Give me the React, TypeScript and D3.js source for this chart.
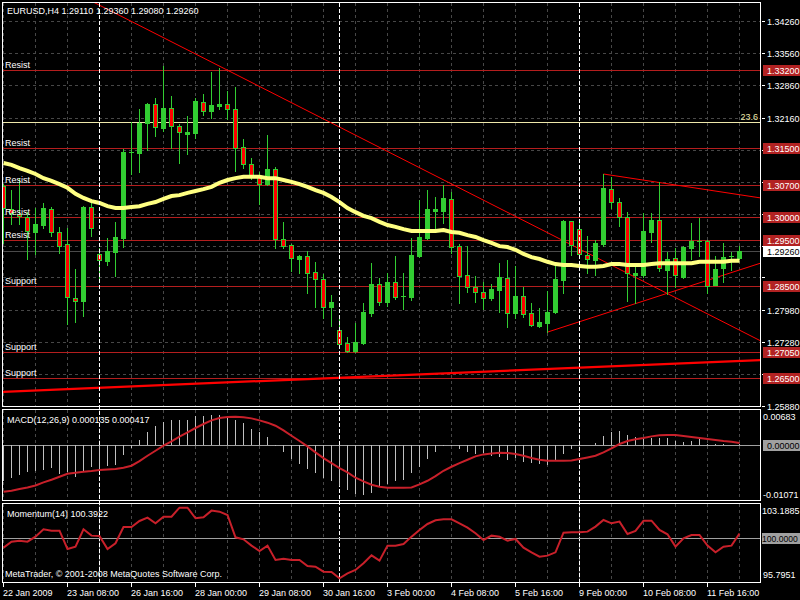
import React, { useEffect } from 'react';
import * as d3 from 'd3';

// ---- candle data (EURUSD H4), one value per bar ----
const opens = [1.3067,1.3017,1.3006,1.2999,1.2967,1.2982,1.3017,1.2967,1.2941,1.2823,
1.2817,1.3021,1.2919,1.2904,1.2923,1.2954,1.3139,1.3139,1.3204,1.3245,
1.3193,1.3237,1.3198,1.3180,1.3182,1.3250,1.3230,1.3241,1.3245,1.3235,
1.3152,1.3115,1.3087,1.3071,1.3104,1.2952,1.2939,1.2908,1.2915,1.2880,
1.2865,1.2804,1.2754,1.2725,1.2708,1.2725,1.2791,1.2854,1.2815,1.2858,
1.2825,1.2825,1.2915,1.2954,1.3013,1.3013,1.3039,1.2936,1.2873,1.2847,
1.2836,1.2823,1.2841,1.2867,1.2791,1.2828,1.2791,1.2762,1.2769,1.2793,
1.2862,1.2991,1.2973,1.2917,1.2906,1.2941,1.3060,1.3032,1.2999,1.2873,
1.2873,1.2967,1.2993,1.2884,1.2910,1.2869,1.2932,1.2945,1.2947,1.2852,
1.2889,1.2912,1.2911];
const highs = [1.3071,1.3058,1.3084,1.3010,1.3019,1.3030,1.3021,1.2978,1.2976,1.2886,
1.3023,1.3032,1.2932,1.2954,1.2989,1.3148,1.3206,1.3235,1.3248,1.3258,
1.3328,1.3263,1.3202,1.3219,1.3258,1.3267,1.3315,1.3324,1.3274,1.3282,
1.3169,1.3128,1.3097,1.3178,1.3108,1.2989,1.2941,1.2917,1.2926,1.2902,
1.2875,1.2830,1.2782,1.2738,1.2769,1.2812,1.2899,1.2867,1.2878,1.2915,
1.2878,1.2954,1.3036,1.3058,1.3043,1.3069,1.3054,1.2941,1.2936,1.2871,
1.2858,1.2854,1.2899,1.2906,1.2893,1.2847,1.2812,1.2802,1.2838,1.2893,
1.2993,1.2991,1.2993,1.2958,1.2949,1.3093,1.3087,1.3041,1.3010,1.2891,
1.3008,1.3008,1.3076,1.2923,1.2932,1.2936,1.2986,1.2997,1.2949,1.2915,
1.2943,1.2923,1.2936];
const lows = [1.2943,1.2984,1.2984,1.2908,1.2919,1.2976,1.2958,1.2921,1.2767,1.2771,
1.2784,1.2958,1.2862,1.2895,1.2871,1.2934,1.3093,1.3097,1.3145,1.3176,
1.3187,1.3150,1.3117,1.3137,1.3171,1.3221,1.3215,1.3235,1.3213,1.3100,
1.3106,1.3082,1.3028,1.3069,1.2932,1.2932,1.2882,1.2878,1.2834,1.2804,
1.2780,1.2762,1.2717,1.2706,1.2706,1.2723,1.2784,1.2808,1.2806,1.2821,
1.2799,1.2819,1.2912,1.2952,1.2976,1.2986,1.2921,1.2812,1.2836,1.2815,
1.2799,1.2819,1.2793,1.2760,1.2780,1.2782,1.2762,1.2760,1.2749,1.2791,
1.2834,1.2917,1.2917,1.2878,1.2873,1.2936,1.3019,1.2980,1.2817,1.2812,
1.2869,1.2945,1.2882,1.2832,1.2847,1.2867,1.2908,1.2915,1.2834,1.2852,
1.2858,1.2884,1.2908];
const closes = [1.3019,1.3008,1.3002,1.2969,1.2984,1.3019,1.2967,1.2936,1.2825,1.2817,
1.3021,1.2976,1.2906,1.2926,1.2956,1.3141,1.3141,1.3204,1.3245,1.3195,
1.3237,1.3198,1.3184,1.3184,1.3252,1.3230,1.3243,1.3245,1.3235,1.3150,
1.3115,1.3087,1.3071,1.3104,1.2952,1.2936,1.2910,1.2915,1.2878,1.2865,
1.2804,1.2815,1.2723,1.2708,1.2728,1.2793,1.2854,1.2815,1.2858,1.2825,
1.2828,1.2917,1.2956,1.3017,1.3017,1.3041,1.2934,1.2871,1.2847,1.2836,
1.2823,1.2843,1.2869,1.2791,1.2828,1.2788,1.2765,1.2771,1.2793,1.2865,
1.2991,1.2939,1.2919,1.2908,1.2943,1.3063,1.3032,1.2999,1.2878,1.2878,
1.2969,1.2993,1.2889,1.2908,1.2873,1.2934,1.2947,1.2947,1.2849,1.2886,
1.2912,1.2915,1.2926];
const maValues = [1.3117,1.3113,1.3106,1.3100,1.3093,1.3084,1.3078,1.3071,1.3063,1.3050,
1.3041,1.3034,1.3030,1.3023,1.3019,1.3019,1.3021,1.3023,1.3028,1.3032,
1.3039,1.3045,1.3047,1.3052,1.3056,1.3060,1.3065,1.3074,1.3080,1.3084,
1.3087,1.3087,1.3087,1.3084,1.3084,1.3080,1.3076,1.3071,1.3065,1.3058,
1.3052,1.3043,1.3032,1.3019,1.3010,1.3002,1.2997,1.2989,1.2982,1.2978,
1.2973,1.2969,1.2969,1.2969,1.2969,1.2971,1.2967,1.2965,1.2960,1.2956,
1.2949,1.2943,1.2936,1.2934,1.2928,1.2919,1.2912,1.2908,1.2902,1.2897,
1.2895,1.2895,1.2893,1.2891,1.2891,1.2893,1.2897,1.2897,1.2895,1.2895,
1.2895,1.2897,1.2899,1.2899,1.2899,1.2899,1.2899,1.2902,1.2902,1.2902,
1.2902,1.2904,1.2904];
const macdHist = [-0.00696,-0.00644,-0.00585,-0.00533,-0.00514,-0.00481,-0.00442,-0.00572,-0.00520,-0.00618,
-0.00533,-0.00436,-0.00501,-0.00403,-0.00384,-0.00195,-0.00059,0.00098,0.00260,0.00364,
0.00455,0.00481,0.00488,0.00494,0.00559,0.00559,0.00592,0.00592,0.00559,0.00494,
0.00423,0.00312,0.00247,0.00156,-0.00010,-0.00130,-0.00273,-0.00371,-0.00468,-0.00546,
-0.00637,-0.00709,-0.00806,-0.00878,-0.00962,-0.00975,-0.00936,-0.00826,-0.00761,-0.00709,
-0.00676,-0.00546,-0.00436,-0.00273,-0.00143,-0.00026,-0.00013,-0.00078,-0.00130,-0.00176,
-0.00156,-0.00208,-0.00241,-0.00293,-0.00260,-0.00325,-0.00358,-0.00371,-0.00384,-0.00293,
-0.00176,-0.00078,-0.00013,0.00002,0.00033,0.00169,0.00247,0.00280,0.00202,0.00150,
0.00130,0.00130,0.00130,0.00130,0.00085,0.00065,0.00085,0.00117,0.00020,0.00013,
0.00020,0.00007,0.000135];
const macdSignal = [-0.00910,-0.00891,-0.00858,-0.00826,-0.00787,-0.00728,-0.00676,-0.00618,-0.00559,-0.00540,
-0.00520,-0.00507,-0.00488,-0.00475,-0.00468,-0.00442,-0.00403,-0.00312,-0.00208,-0.00111,
-0.00013,0.00072,0.00163,0.00247,0.00332,0.00410,0.00481,0.00527,0.00546,0.00553,
0.00540,0.00520,0.00481,0.00436,0.00377,0.00286,0.00182,0.00078,-0.00026,-0.00143,
-0.00254,-0.00351,-0.00449,-0.00533,-0.00637,-0.00709,-0.00774,-0.00813,-0.00832,-0.00832,
-0.00832,-0.00826,-0.00767,-0.00696,-0.00605,-0.00501,-0.00423,-0.00351,-0.00286,-0.00221,
-0.00182,-0.00163,-0.00150,-0.00156,-0.00176,-0.00208,-0.00254,-0.00286,-0.00306,-0.00306,
-0.00306,-0.00299,-0.00273,-0.00241,-0.00208,-0.00143,-0.00065,0.00020,0.00078,0.00111,
0.00137,0.00169,0.00189,0.00195,0.00195,0.00176,0.00156,0.00137,0.00117,0.00098,
0.00078,0.00065,0.000417];
const momentum = [99.052,99.621,99.716,99.621,100.095,100.790,100.664,100.664,98.926,99.147,
100.790,100.190,100.158,98.926,99.463,101.011,101.011,101.580,101.896,101.359,
101.991,101.991,102.844,102.844,101.833,101.928,102.560,102.465,102.149,100.032,
99.842,99.242,98.736,99.242,97.883,98.009,97.883,97.883,97.314,97.251,
96.777,96.745,96.145,96.619,96.935,97.567,98.325,97.820,99.242,99.242,
99.400,100.095,100.727,101.296,101.643,101.738,101.738,101.359,100.948,100.411,
99.779,100.190,100.095,99.716,99.874,99.052,98.610,98.199,98.294,98.610,
100.474,100.506,100.506,100.569,101.043,101.675,101.359,101.517,100.348,100.632,
101.612,101.612,100.727,100.316,99.147,99.937,100.253,100.253,99.242,98.610,
99.147,99.242,100.392];

// ---- axes / annotations ----
const xLabels = ["22 Jan 2009","23 Jan 08:00","26 Jan 16:00","28 Jan 00:00","29 Jan 08:00","30 Jan 16:00","3 Feb 00:00","4 Feb 08:00","5 Feb 16:00","9 Feb 00:00","10 Feb 08:00","11 Feb 16:00"];
const xLabelBars = [0,8,16,24,32,40,48,56,64,72,80,88];
const separatorBars = [12,42,72];
const priceTicks = [1.3426,1.3356,1.3286,1.3216,1.3146,1.3076,1.3006,1.2936,1.2868,1.2798,1.2728,1.2658,1.2588];
const levelPrices = [1.332,1.315,1.307,1.300,1.295,1.285,1.2705,1.265];
const levelNames = ["Resist","Resist","Resist","Resist","Resist","Support","Support","Support"];
const fibPrice = 1.3206;
const fibLabel = "23.6";
const bidPrice = 1.2926;
const trendFrom = [[11.25,1.3467],[-0.125,1.2619],[75,1.3093],[68,1.2749]];
const trendTo = [[94.625,1.2730],[94.625,1.2688],[94.625,1.3041],[94.625,1.2899]];
const trendWidths = [1,2.2,1,1];
const macdTicks = [0.00683,-0.01071];
const momTicks = [103.1885,95.7951];

const FONT = '"Liberation Sans", Arial, sans-serif';
const GREEN = '#32cd32';
const LEVEL = '#b41e1e';

export default function App() {
  useEffect(() => {
    document.body.style.margin = '0';
    document.body.style.background = '#000';
  }, []);

  const n = closes.length;
  const xs = d3.scaleLinear().domain([0, 92]).range([3, 739]);
  const yMain = d3.scaleLinear().domain([1.25903, 1.34652]).range([405, 3]);
  const yMacd = d3.scaleLinear().domain([-0.01071, 0.00683]).range([500, 410]);
  const yMom = d3.scaleLinear().domain([95.7951, 103.1885]).range([582, 504]);

  const gridXs = d3.range(0, 93, 4).map(i => Math.round(xs(i)) + 0.5);

  const maLine = d3.line<number>().x((_, i) => xs(i) + 0.5).y(v => yMain(v));
  const sigLine = d3.line<number>().x((_, i) => xs(i) + 0.5).y(v => yMacd(v));
  const momLine = d3.line<number>().x((_, i) => xs(i) + 0.5).y(v => yMom(v));

  const fmt5 = (v: number) => v.toFixed(5);
  const txt = { fontFamily: FONT, fontSize: 9 } as const;

  // price boxes on the axis (levels + bid) hide tick labels that sit under them
  const boxYs = [...levelPrices, bidPrice].map(p => Math.round(yMain(p)));
  const visibleTicks = priceTicks.filter(p => {
    const y = Math.round(yMain(p));
    return boxYs.every(by => Math.abs(by - y) > 9);
  });

  const candles = d3.range(n).map(i => {
    const c = Math.round(xs(i));
    const o = opens[i], cl = closes[i];
    const bull = cl >= o;
    const top = Math.round(yMain(Math.max(o, cl)));
    const bot = Math.round(yMain(Math.min(o, cl)));
    const hy = Math.round(yMain(highs[i]));
    const ly = Math.round(yMain(lows[i]));
    return (
      <g key={i}>
        <line x1={c + 0.5} x2={c + 0.5} y1={hy} y2={ly + 1} stroke={GREEN} strokeWidth={1} />
        {bot - top <= 1 ? (
          <rect x={c - 2} y={top} width={5} height={1} fill={GREEN} />
        ) : bull ? (
          <rect x={c - 2} y={top} width={5} height={bot - top + 1} fill={GREEN} />
        ) : (
          <rect x={c - 1.5} y={top + 0.5} width={4} height={bot - top} fill="#ff0000" stroke={GREEN} strokeWidth={1} />
        )}
      </g>
    );
  });

  return (
    <svg width={800} height={600} style={{ position: 'absolute', left: 0, top: 0, background: '#000', display: 'block' }} shapeRendering="crispEdges">
      <defs>
        <clipPath id="mainClip"><rect x={3} y={3} width={757} height={403} /></clipPath>
        <clipPath id="macdClip"><rect x={3} y={410} width={757} height={90} /></clipPath>
        <clipPath id="momClip"><rect x={3} y={504} width={757} height={78} /></clipPath>
      </defs>
      <rect x={0} y={0} width={800} height={600} fill="#000" />

      {/* grids */}
      <g stroke="#474747" strokeDasharray="3,3" strokeWidth={1}>
        {gridXs.map((x, k) => (
          <g key={k}>
            <line x1={x} x2={x} y1={3} y2={406} />
            <line x1={x} x2={x} y1={410} y2={500} />
            <line x1={x} x2={x} y1={504} y2={582} />
          </g>
        ))}
        {priceTicks.map((p, k) => (
          <line key={'h' + k} x1={3} x2={760} y1={Math.round(yMain(p)) + 0.5} y2={Math.round(yMain(p)) + 0.5} />
        ))}
      </g>

      {/* main panel objects */}
      <g clipPath="url(#mainClip)">
        <line x1={3} x2={760} y1={Math.round(yMain(bidPrice)) + 0.5} y2={Math.round(yMain(bidPrice)) + 0.5} stroke="#4a4a4a" />
        {levelPrices.map((p, k) => (
          <line key={k} x1={3} x2={760} y1={Math.round(yMain(p)) + 0.5} y2={Math.round(yMain(p)) + 0.5} stroke={LEVEL} strokeWidth={1} />
        ))}
        <line x1={3} x2={760} y1={Math.round(yMain(fibPrice)) + 0.5} y2={Math.round(yMain(fibPrice)) + 0.5} stroke="#eee8aa" strokeWidth={1} />
        {trendFrom.map((a, k) => (
          <line key={'t' + k} x1={xs(a[0]) + 0.5} y1={yMain(a[1])} x2={xs(trendTo[k][0]) + 0.5} y2={yMain(trendTo[k][1])}
            stroke="#ff0000" strokeWidth={trendWidths[k]} shapeRendering="auto" />
        ))}
        {candles}
        <path d={maLine(maValues) || ''} fill="none" stroke="#ffff82" strokeWidth={4} shapeRendering="auto" />
      </g>

      {/* separators */}
      <g stroke="#ffffff" strokeDasharray="4,2" strokeWidth={1}>
        {separatorBars.map(b => (
          <line key={b} x1={Math.round(xs(b)) + 0.5} x2={Math.round(xs(b)) + 0.5} y1={3} y2={582} />
        ))}
      </g>

      {/* level labels */}
      {levelPrices.map((p, k) => (
        <text key={'l' + k} x={5} y={Math.round(yMain(p)) - 2} fill="#fff" style={txt}>{levelNames[k]}</text>
      ))}
      <text x={758} y={Math.round(yMain(fibPrice)) - 2} fill="#eee8aa" textAnchor="end" style={txt}>{fibLabel}</text>
      <text x={7} y={14} fill="#fff" style={txt}>EURUSD,H4  1.29110 1.29360 1.29080 1.29260</text>

      {/* MACD panel */}
      <g clipPath="url(#macdClip)">
        <line x1={3} x2={760} y1={Math.round(yMacd(0)) + 0.5} y2={Math.round(yMacd(0)) + 0.5} stroke="#a0a0a0" />
        {macdHist.map((v, i) => (
          <line key={i} x1={Math.round(xs(i)) + 0.5} x2={Math.round(xs(i)) + 0.5}
            y1={Math.round(yMacd(0))} y2={Math.round(yMacd(v))} stroke="#c0c0c0" />
        ))}
        <path d={sigLine(macdSignal) || ''} fill="none" stroke="#c8202a" strokeWidth={2} shapeRendering="auto" />
      </g>
      <text x={7} y={423} fill="#fff" style={txt}>MACD(12,26,9) 0.000135 0.000417</text>

      {/* Momentum panel */}
      <g clipPath="url(#momClip)">
        <line x1={3} x2={760} y1={Math.round(yMom(100)) + 0.5} y2={Math.round(yMom(100)) + 0.5} stroke="#a0a0a0" />
        <path d={momLine(momentum) || ''} fill="none" stroke="#c8202a" strokeWidth={2} shapeRendering="auto" />
      </g>
      <text x={7} y={517} fill="#fff" style={txt}>Momentum(14) 100.3922</text>
      <text x={5} y={577} fill="#fff" style={txt}>MetaTrader, © 2001-2008 MetaQuotes Software Corp.</text>

      {/* panel frames */}
      <g fill="none" stroke="#fff" strokeWidth={1}>
        <rect x={2.5} y={2.5} width={758} height={404} />
        <rect x={2.5} y={409.5} width={758} height={91} />
        <rect x={2.5} y={503.5} width={758} height={79} />
      </g>

      {/* right price axis */}
      {priceTicks.map((p, k) => {
        const y = Math.round(yMain(p));
        return <line key={'ptk' + k} x1={762} x2={765} y1={y + 0.5} y2={y + 0.5} stroke="#fff" />;
      })}
      {visibleTicks.map((p, k) => {
        const y = Math.round(yMain(p));
        return <text key={'pt' + k} x={767} y={y + 4} fill="#fff" style={txt}>{fmt5(p)}</text>;
      })}
      {levelPrices.map((p, k) => {
        const y = Math.round(yMain(p));
        return (
          <g key={'pb' + k}>
            <rect x={763} y={y - 5} width={37} height={11} fill="#b22222" />
            <text x={767} y={y + 4} fill="#fff" style={txt}>{fmt5(p)}</text>
          </g>
        );
      })}
      <g>
        <rect x={763} y={Math.round(yMain(bidPrice)) - 5} width={37} height={11} fill="#fff" />
        <text x={767} y={Math.round(yMain(bidPrice)) + 4} fill="#000" style={txt}>{fmt5(bidPrice)}</text>
      </g>

      {/* MACD axis */}
      <text x={763} y={420} fill="#fff" style={txt}>{fmt5(macdTicks[0])}</text>
      <rect x={763} y={Math.round(yMacd(0)) - 5} width={37} height={11} fill="#a0a0a0" />
      <text x={767} y={Math.round(yMacd(0)) + 4} fill="#000" style={txt}>{fmt5(0)}</text>
      <text x={763} y={498} fill="#fff" style={txt}>{fmt5(macdTicks[1])}</text>

      {/* Momentum axis */}
      <text x={762} y={514} fill="#fff" style={txt}>{momTicks[0].toFixed(4)}</text>
      <rect x={762} y={Math.round(yMom(100)) - 5} width={38} height={11} fill="#a0a0a0" />
      <text x={762} y={Math.round(yMom(100)) + 4} fill="#000" style={{ fontFamily: FONT, fontSize: 8.6 }}>{(100).toFixed(4)}</text>
      <text x={763} y={578} fill="#fff" style={txt}>{momTicks[1].toFixed(4)}</text>

      {/* time axis */}
      {xLabelBars.map((b, k) => {
        const x = Math.round(xs(b));
        return (
          <g key={'xl' + k}>
            <line x1={x + 0.5} x2={x + 0.5} y1={583} y2={587} stroke="#fff" />
            <text x={x} y={596} fill="#fff" style={txt}>{xLabels[k]}</text>
          </g>
        );
      })}
    </svg>
  );
}
